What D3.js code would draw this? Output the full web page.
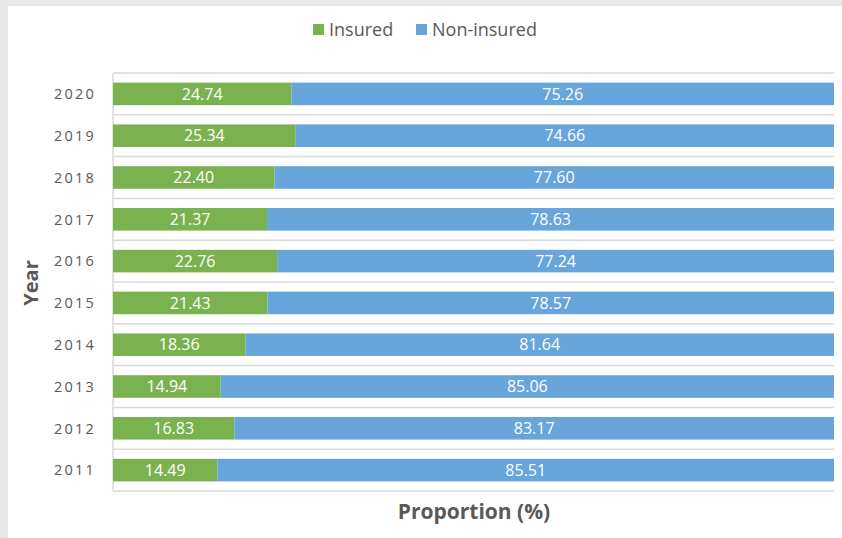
<!DOCTYPE html>
<html><head><meta charset="utf-8">
<script src="https://cdn.jsdelivr.net/npm/d3@7"></script>
<style>
body{margin:0;background:#e7e8e7;}
svg{display:block;font-family:"Open Sans",sans-serif;}
</style></head>
<body><svg id="c" width="842" height="538"></svg>
<script>
const years = ["2020","2019","2018","2017","2016","2015","2014","2013","2012","2011"];
const insured = [24.74,25.34,22.40,21.37,22.76,21.43,18.36,14.94,16.83,14.49];
const nonInsured = [75.26,74.66,77.60,78.63,77.24,78.57,81.64,85.06,83.17,85.51];
const seriesNames = ["Insured","Non-insured"];
const colors = ["#7ab24f","#67a5da"];

(function(){
const svg = d3.select("#c");
svg.append("rect").attr("x",0).attr("y",0).attr("width",842).attr("height",538).attr("fill","#e7e8e7");
svg.append("rect").attr("x",8).attr("y",6).attr("width",834).attr("height",532).attr("fill","#ffffff");

const pL=113, pR=834, pT=73, pB=491;
const x = d3.scaleLinear().domain([0,100]).range([pL,pR]);
const y = d3.scaleBand().domain(years).range([pT,pB]).paddingInner(0.46).paddingOuter(0.23);
const yb = d3.scaleBand().domain(years).range([pT,pB]);

const gl = svg.append("g");
years.forEach(yr=>{
  gl.append("line").attr("x1",pL).attr("x2",pR).attr("y1",yb(yr)).attr("y2",yb(yr)).attr("stroke","#d9d9d9").attr("stroke-width",1.5);
});
gl.append("line").attr("x1",pL).attr("x2",pR).attr("y1",pB).attr("y2",pB).attr("stroke","#d9d9d9").attr("stroke-width",1.5);
gl.append("line").attr("x1",pL).attr("x2",pL).attr("y1",pT).attr("y2",pB).attr("stroke","#d9d9d9").attr("stroke-width",1.5);

const rows = years.map((yr,i)=>({yr, vals:[insured[i],nonInsured[i]]}));
const g = svg.append("g");
rows.forEach(r=>{
  let acc=0;
  r.vals.forEach((v,k)=>{
    const x0=x(acc), x1=x(acc+v);
    g.append("rect").attr("x",x0).attr("y",y(r.yr)).attr("width",x1-x0).attr("height",y.bandwidth()).attr("fill",colors[k]);
    g.append("text").attr("x",(x0+x1)/2).attr("y",y(r.yr)+y.bandwidth()/2).attr("dy","0.36em")
      .attr("text-anchor","middle").attr("fill","#ffffff").attr("font-size",16).text(v.toFixed(2));
    acc+=v;
  });
});

const yAxis = d3.axisLeft(yb).tickSize(0).tickPadding(0);
const ya = svg.append("g").attr("transform",`translate(${pL-17},0)`).call(yAxis);
ya.select(".domain").remove();
ya.selectAll("text").attr("font-family","'Open Sans',sans-serif").attr("font-size",14.5).attr("fill","#595959")
  .attr("letter-spacing","2.2px").attr("dy","0.36em");

svg.append("text").attr("transform","translate(38,283) rotate(-90)").attr("text-anchor","middle")
  .attr("font-size",20).attr("font-weight","bold").attr("fill","#595959").text("Year");
svg.append("text").attr("x",474).attr("y",519).attr("text-anchor","middle")
  .attr("font-size",21).attr("font-weight","bold").attr("fill","#595959").text("Proportion (%)");

const lg = svg.append("g");
const legendX = [313,416];
seriesNames.forEach((n,k)=>{
  lg.append("rect").attr("x",legendX[k]).attr("y",24).attr("width",11).attr("height",11).attr("fill",colors[k]);
  lg.append("text").attr("x",legendX[k]+16).attr("y",30).attr("dy","0.36em").attr("font-size",18).attr("fill","#595959").text(n);
});
})();
</script></body></html>
